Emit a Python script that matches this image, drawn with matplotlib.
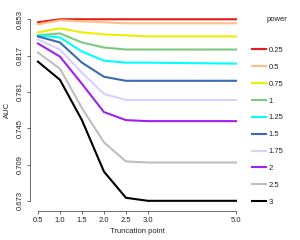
import matplotlib
matplotlib.use("Agg")
import matplotlib.pyplot as plt

plt.rcParams['font.family'] = ['Liberation Sans', 'DejaVu Sans']

trunc = [0.5, 1.0, 1.5, 2.0, 2.5, 3.0, 5.0]
powers = ["0.25", "0.5", "0.75", "1", "1.25", "1.5", "1.75", "2", "2.5", "3"]
colors = ["#E41A1C", "#FDC086", "#EEEE00", "#7FC97F", "#00FFFF",
          "#386CB0", "#DCCFFF", "#A020F0", "#BEBEBE", "#000000"]
auc = [
    [0.850, 0.853, 0.853, 0.853, 0.853, 0.853, 0.853],
    [0.848, 0.852, 0.851, 0.850, 0.849, 0.849, 0.849],
    [0.840, 0.844, 0.840, 0.838, 0.837, 0.836, 0.836],
    [0.837, 0.839, 0.830, 0.825, 0.823, 0.823, 0.823],
    [0.837, 0.835, 0.821, 0.812, 0.810, 0.810, 0.809],
    [0.836, 0.830, 0.810, 0.796, 0.792, 0.792, 0.792],
    [0.833, 0.823, 0.800, 0.779, 0.773, 0.773, 0.773],
    [0.829, 0.816, 0.789, 0.761, 0.753, 0.752, 0.752],
    [0.820, 0.804, 0.765, 0.731, 0.712, 0.711, 0.711],
    [0.811, 0.793, 0.753, 0.702, 0.676, 0.673, 0.673],
]
xticks = [0.5, 1.0, 1.5, 2.0, 2.5, 3.0, 5.0]
yticks = [0.673, 0.709, 0.745, 0.781, 0.817, 0.853]

fig = plt.figure(figsize=(3.0, 2.4), dpi=100)
ax = fig.add_axes([0.1, 0.133, 0.713, 0.817])
for p, c, v in zip(powers, colors, auc):
    ax.plot(trunc, v, color=c, lw=1.5, label=p)

ax.set_xlim(0.32, 5.18)
ax.set_ylim(0.6658, 0.8602)
for s in ["top", "right"]:
    ax.spines[s].set_visible(False)
ax.spines["left"].set_bounds(yticks[0], yticks[-1])
ax.spines["bottom"].set_bounds(xticks[0], xticks[-1])
ax.spines["bottom"].set_position(("outward", 2))
ax.spines["left"].set_linewidth(0.6)
ax.spines["bottom"].set_linewidth(0.6)
for sp in ["left", "bottom"]:
    ax.spines[sp].set_color("#555555")
ax.set_xticks(xticks)
ax.set_xticklabels(["%.1f" % t for t in xticks])
ax.set_yticks(yticks)
ax.set_yticklabels(["%.3f" % t for t in yticks], rotation=90, va="center")
ax.tick_params(labelsize=5.5, length=2.5, width=0.6, pad=2, colors="#555555",
               labelcolor="#222222")
ax.set_xlabel("Truncation point", fontsize=5.5, color="#222222", labelpad=3)
ax.set_ylabel("AUC", fontsize=5.5, color="#222222", labelpad=4)

leg = fig.legend(*ax.get_legend_handles_labels(), loc="upper left",
                 bbox_to_anchor=(0.827, 0.822), frameon=False,
                 fontsize=5.5, handlelength=1.8, handletextpad=0.35,
                 labelspacing=1.25, borderpad=0)
for t in leg.get_texts():
    t.set_color("#222222")
fig.text(0.923, 0.92, "power", fontsize=5.5, color="#222222",
         ha="center", va="center")

fig.savefig("out.png", dpi=100)
